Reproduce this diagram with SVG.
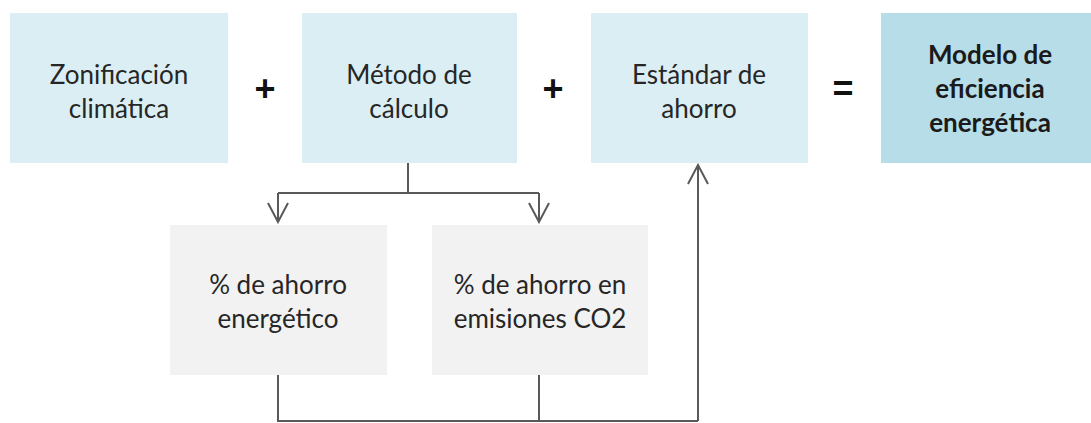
<svg xmlns="http://www.w3.org/2000/svg" width="1091" height="423" viewBox="0 0 1091 423">
<style>
.blue{fill:#DAEEF3}
.dark{fill:#B7DDE8}
.grey{fill:#F2F2F2}
.t{font-family:Lato,"Open Sans","Liberation Sans",sans-serif;font-size:26px;fill:#262626;text-anchor:middle}
.b{font-weight:bold;fill:#1a1a1a}
.op{font-family:"Liberation Sans",Arial,sans-serif;font-size:36px;font-weight:bold;fill:#111;text-anchor:middle}
.c{fill:none;stroke:#595959;stroke-width:2}
</style>
<defs>
<marker id="ah" viewBox="0 0 22 22" refX="20" refY="11" markerWidth="22" markerHeight="22" markerUnits="userSpaceOnUse" orient="auto">
<path d="M1,1 L20,11 L1,21" fill="none" stroke="#595959" stroke-width="2"/>
</marker>
</defs>
<rect width="1091" height="423" fill="#fff"/>
<g id="zonificacion"><rect class="blue" x="10" y="13" width="218" height="150"/><text class="t" x="119" y="84">Zonificación</text><text class="t" x="119" y="118">climática</text></g>
<g id="metodo"><rect class="blue" x="302" y="13" width="215" height="150"/><text class="t" x="409" y="84">Método de</text><text class="t" x="409" y="118">cálculo</text></g>
<g id="estandar"><rect class="blue" x="591" y="13" width="217" height="150"/><text class="t" x="699" y="84">Estándar de</text><text class="t" x="699" y="118">ahorro</text></g>
<g id="modelo"><rect class="dark" x="881" y="13" width="210" height="150"/><text class="t b" x="990" y="64">Modelo de</text><text class="t b" x="990" y="98">eficiencia</text><text class="t b" x="990" y="132">energética</text></g>
<g id="ops"><text class="op" x="265" y="101">+</text><text class="op" x="553" y="101">+</text><text class="op" x="843" y="101">=</text></g>
<g id="ahorro-energetico"><rect class="grey" x="170" y="225" width="217" height="150"/><text class="t" x="278" y="294">% de ahorro</text><text class="t" x="278" y="328">energético</text></g>
<g id="ahorro-co2"><rect class="grey" x="432" y="225" width="216" height="150"/><text class="t" x="540" y="294">% de ahorro en</text><text class="t" x="540" y="328">emisiones CO2</text></g>
<g id="connectors">
<path class="c" d="M408,163 V193"/>
<path class="c" d="M278,193 H539"/>
<path class="c" d="M278,193 V222" marker-end="url(#ah)"/>
<path class="c" d="M539,193 V222" marker-end="url(#ah)"/>
<path class="c" d="M278,375 V421 H698"/>
<path class="c" d="M539,375 V421"/>
<path class="c" d="M698,421 V165" marker-end="url(#ah)"/>
</g>
</svg>
